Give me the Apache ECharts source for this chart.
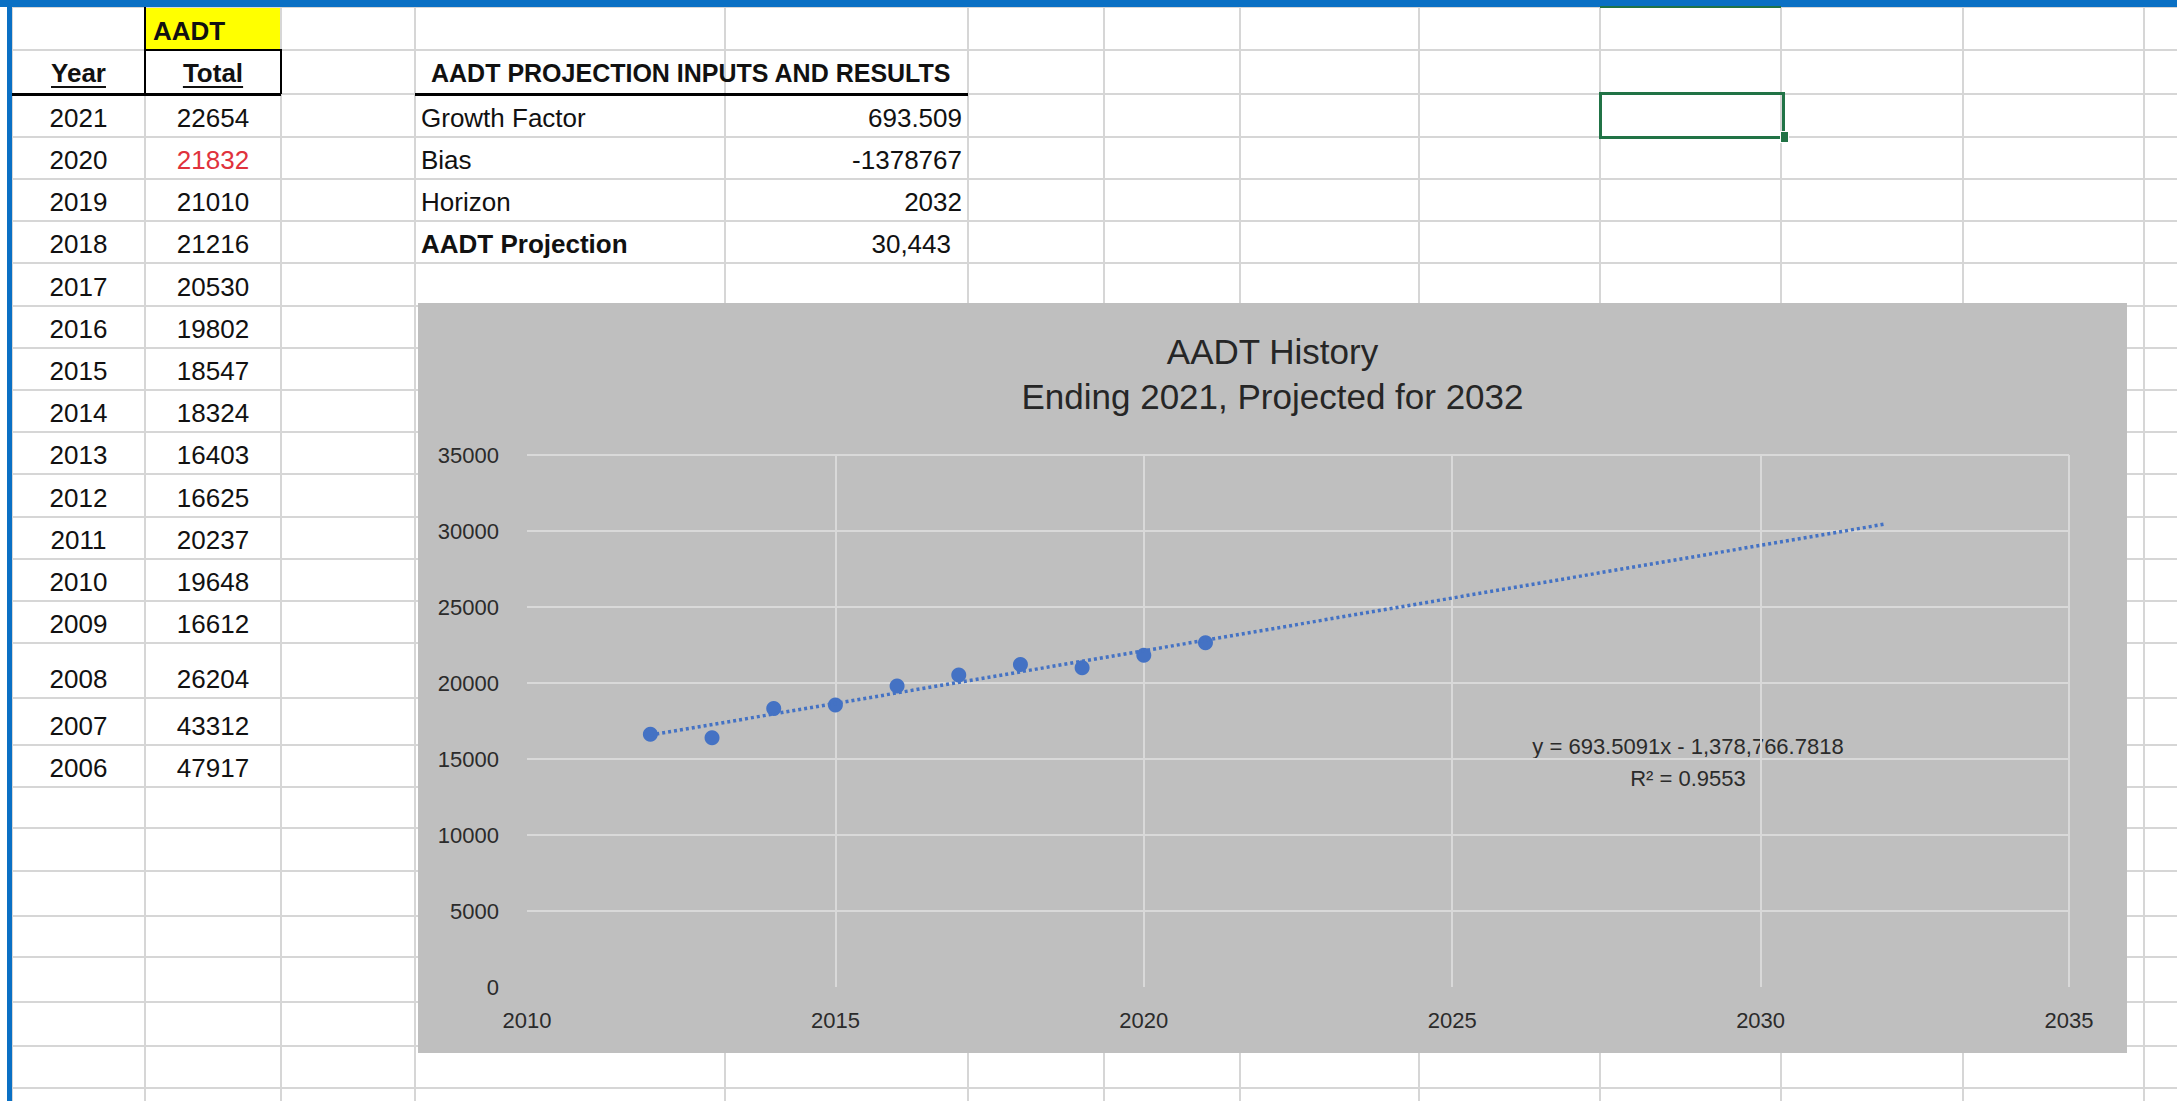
<!DOCTYPE html>
<html><head><meta charset="utf-8">
<script src="https://cdn.jsdelivr.net/npm/echarts@6/dist/echarts.min.js"></script>
<style>
html,body{margin:0;padding:0;background:#fff;width:2177px;height:1101px;overflow:hidden;}
#sheet{position:absolute;left:0;top:0;width:2177px;height:1101px;font-family:"Liberation Sans",Arial,sans-serif;}
.ln{position:absolute;background:#D6D6D6;}
.blk{position:absolute;background:#000;}
.cell{position:absolute;display:flex;align-items:flex-end;box-sizing:border-box;font-size:26px;line-height:30px;color:#111;padding-bottom:4px;white-space:nowrap;}
#chart{position:absolute;left:418px;top:303px;width:1709px;height:750px;}
</style></head><body>
<div id="sheet"></div>
<div id="chart"></div>
<script>
// ---- data ----
const tableYears = [2021, 2020, 2019, 2018, 2017, 2016, 2015, 2014, 2013, 2012, 2011, 2010, 2009, 2008, 2007, 2006];
const tableTotals = [22654, 21832, 21010, 21216, 20530, 19802, 18547, 18324, 16403, 16625, 20237, 19648, 16612, 26204, 43312, 47917];
const inputLabels = ['Growth Factor', 'Bias', 'Horizon', 'AADT Projection'];
const inputValues = ['693.509', '-1378767', '2032', '30,443'];
const chartYears = [2012, 2013, 2014, 2015, 2016, 2017, 2018, 2019, 2020, 2021];
const chartValues = [16625, 16403, 18324, 18547, 19802, 20530, 21216, 21010, 21832, 22654];
const trendYears = [2012, 2032];
const trendValues = [16574, 30444];
const xTicks = {min: 2010, max: 2035, step: 5};
const yTicks = {min: 0, max: 35000, step: 5000};
const titleLines = ['AADT History', 'Ending 2021, Projected for 2032'];
const equationLines = ['y = 693.5091x - 1,378,766.7818', 'R\u00B2 = 0.9553'];

// ---- spreadsheet layout ----
const colEdges = [12, 145, 281, 415, 725, 968, 1104, 1240, 1419, 1600, 1781, 1963, 2144];
const rowEdges = [7, 50, 94, 137, 179, 221, 263, 306, 348, 390, 432, 474, 517, 559, 601, 643, 698, 745, 787, 828, 871, 916, 957, 1002, 1046, 1088];
const sheet = document.getElementById('sheet');
function box(cls, l, t, w, h, css, text) {
  const d = document.createElement('div');
  d.className = cls;
  d.style.left = l + 'px'; d.style.top = t + 'px';
  d.style.width = w + 'px'; d.style.height = h + 'px';
  if (css) Object.assign(d.style, css);
  if (text !== undefined) d.textContent = text;
  sheet.appendChild(d);
  return d;
}
// yellow cell
box('', 145, 7, 136, 43, {position: 'absolute', background: '#FFFF00'});
// grid lines
colEdges.forEach(x => box('ln', x - 1, 7, 2, 1094));
rowEdges.forEach(y => box('ln', 12, y - 1, 2165, 2));
// black borders
box('blk', 12, 93, 269, 3);
box('blk', 415, 93, 553, 3);
box('blk', 144, 7, 2, 87);
box('blk', 145, 49, 136, 2);
box('blk', 280, 49, 2, 45);
// blue frame
box('', 0, 0, 2177, 7, {position: 'absolute', background: '#0A70C4'});
box('', 7, 0, 5, 1101, {position: 'absolute', background: '#0A70C4'});
// selected cell
box('', 1600, 6, 181, 2, {position: 'absolute', background: '#217346'});
box('', 1599, 92, 186, 47, {position: 'absolute', border: '3px solid #217346', boxSizing: 'border-box'});
box('', 1780, 131, 7, 10, {position: 'absolute', background: '#217346', border: '1px solid #fff'});

// header texts
box('cell', 145, 7, 136, 43, {fontWeight: 'bold', paddingLeft: '8px'}, 'AADT');
box('cell', 12, 50, 133, 44, {fontWeight: 'bold', justifyContent: 'center', textDecoration: 'underline', textUnderlineOffset: '4px', paddingBottom: '6px'}, 'Year');
box('cell', 145, 50, 136, 44, {fontWeight: 'bold', justifyContent: 'center', textDecoration: 'underline', textUnderlineOffset: '4px', paddingBottom: '6px'}, 'Total');
box('cell', 415, 50, 553, 44, {fontWeight: 'bold', paddingLeft: '16px', fontSize: '25px', paddingBottom: '6px'}, 'AADT PROJECTION INPUTS AND RESULTS');
// year rows
tableYears.forEach((yr, i) => {
  const t = rowEdges[2 + i], h = rowEdges[3 + i] - t;
  box('cell', 12, t, 133, h, {justifyContent: 'center'}, String(yr));
  box('cell', 145, t, 136, h, {justifyContent: 'center', color: yr === 2020 ? '#E0323C' : '#111'}, String(tableTotals[i]));
});
// inputs rows
inputLabels.forEach((lab, i) => {
  const t = rowEdges[2 + i], h = rowEdges[3 + i] - t;
  const last = i === inputLabels.length - 1;
  box('cell', 415, t, 310, h, {paddingLeft: '6px', fontWeight: last ? 'bold' : 'normal'}, lab);
  box('cell', 725, t, 243, h, {justifyContent: 'flex-end', paddingRight: last ? '17px' : '6px'}, inputValues[i]);
});

// ---- chart ----
const FONT = '"Liberation Sans", Arial, sans-serif';
const gridColor = '#D9D9D9';
const nx = (xTicks.max - xTicks.min) / xTicks.step + 1;
const ny = (yTicks.max - yTicks.min) / yTicks.step + 1;
const xSplitColors = Array.from({length: nx}, (_, i) => i === 0 ? 'rgba(0,0,0,0)' : gridColor);
const ySplitColors = Array.from({length: ny}, (_, i) => i === 0 ? 'rgba(0,0,0,0)' : gridColor);

const chart = echarts.init(document.getElementById('chart'), null, {renderer: 'svg'});
chart.setOption({
  backgroundColor: '#BFBFBF',
  animation: false,
  title: {
    text: titleLines.join('\n'),
    left: 'center', top: 26, padding: 0,
    textStyle: {fontFamily: FONT, fontSize: 35, fontWeight: 'normal', color: '#262626', lineHeight: 45}
  },
  grid: {left: 109, right: 58, top: 152, bottom: 66},
  xAxis: {
    type: 'value', min: xTicks.min, max: xTicks.max, interval: xTicks.step,
    axisLine: {show: false}, axisTick: {show: false},
    axisLabel: {fontFamily: FONT, fontSize: 22, color: '#2b2b2b', margin: 22, formatter: v => String(v)},
    splitLine: {show: true, lineStyle: {color: xSplitColors, width: 2}}
  },
  yAxis: {
    type: 'value', min: yTicks.min, max: yTicks.max, interval: yTicks.step,
    axisLine: {show: false}, axisTick: {show: false},
    axisLabel: {fontFamily: FONT, fontSize: 22, color: '#2b2b2b', margin: 28, formatter: v => String(v)},
    splitLine: {show: true, lineStyle: {color: ySplitColors, width: 2}}
  },
  series: [
    {
      type: 'scatter', z: 2,
      data: chartYears.map((y, i) => [y, chartValues[i]]),
      symbol: 'circle', symbolSize: 15,
      itemStyle: {color: '#4472C4', opacity: 1}
    },
    {
      type: 'line', z: 3,
      data: trendYears.map((y, i) => [y, trendValues[i]]),
      symbol: 'none',
      lineStyle: {color: '#4472C4', width: 3.5, type: [3, 3], opacity: 1}
    }
  ],
  graphic: [{
    type: 'text', x: 1270, y: 427,
    style: {text: equationLines.join('\n'), align: 'center', verticalAlign: 'top', fontFamily: FONT, fontSize: 22, lineHeight: 32, fill: '#2b2b2b'}
  }]
});
</script>
</body></html>
